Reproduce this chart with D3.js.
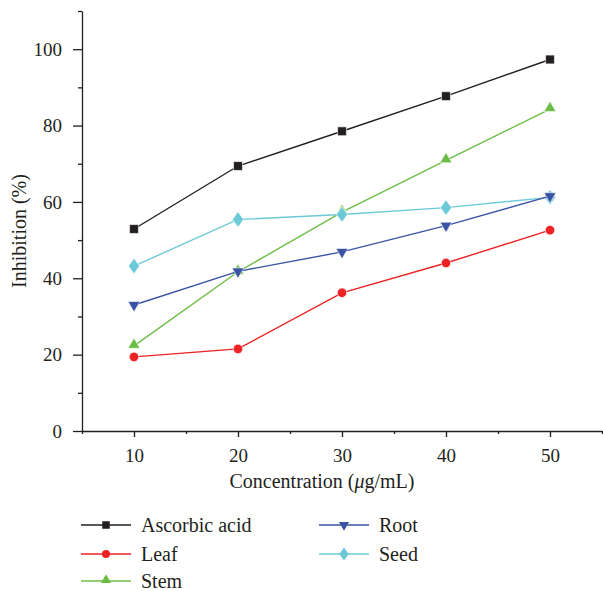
<!DOCTYPE html>
<html>
<head>
<meta charset="utf-8">
<script src="https://cdn.jsdelivr.net/npm/d3@7"></script>
<style>
  html, body { margin: 0; padding: 0; background: #fff; }
  svg { display: block; }
</style>
</head>
<body>
<div id="chart"></div>
<script>
(function () {
  "use strict";

  // --- Data ---
  const concentrations = [10, 20, 30, 40, 50];
  const ascorbicAcid = [52.9, 69.4, 78.5, 87.7, 97.3];
  const leaf = [19.4, 21.5, 36.2, 44.0, 52.6];
  const stem = [22.3, 41.7, 57.3, 70.9, 84.3];
  const root = [33.0, 41.8, 46.9, 53.8, 61.5];
  const seed = [43.2, 55.4, 56.7, 58.5, 61.2];
  const yTicks = [0, 20, 40, 60, 80, 100];
  const xTicks = [10, 20, 30, 40, 50];

  const series = [
    { name: "Ascorbic acid", values: ascorbicAcid, color: "#231f20", symbol: "square", col: 0, row: 0 },
    { name: "Leaf", values: leaf, color: "#ed2224", symbol: "circle", col: 0, row: 1 },
    { name: "Stem", values: stem, color: "#6cbd45", symbol: "triangle", col: 0, row: 2 },
    { name: "Root", values: root, color: "#3a53a4", symbol: "down", col: 1, row: 0 },
    { name: "Seed", values: seed, color: "#6ccad8", symbol: "diamond", col: 1, row: 1 },
  ];
  // draw order: later ones on top
  const drawOrder = ["Stem", "Seed", "Root", "Leaf", "Ascorbic acid"];

  const W = 603, H = 591;
  const font = "'Liberation Serif', 'DejaVu Serif', serif";
  const left = 82, right = 602, top = 11, bottom = 431;

  const svg = d3.select("#chart").append("svg")
    .attr("width", W).attr("height", H);

  const x = d3.scaleLinear().domain([5, 55]).range([left, right]);
  const y = d3.scaleLinear().domain([0, 110]).range([bottom, top]);

  // --- Axes ---
  const axisColor = "#231f20";
  const yMinor = d3.range(10, 111, 20);
  const xMinor = d3.range(5, 56, 10);

  const gy = svg.append("g").attr("transform", `translate(${left},0)`);
  gy.call(d3.axisLeft(y).tickValues(yMinor).tickSize(4).tickFormat(""));
  gy.call(g => g.select(".domain").remove());
  gy.append("g").call(d3.axisLeft(y).tickValues(yTicks).tickSize(9).tickPadding(11).tickSizeOuter(0));

  const gx = svg.append("g").attr("transform", `translate(0,${bottom})`);
  gx.call(d3.axisBottom(x).tickValues(xMinor).tickSize(3).tickFormat(""));
  gx.call(g => g.select(".domain").remove());
  gx.append("g").call(d3.axisBottom(x).tickValues(xTicks).tickSize(6).tickPadding(12).tickSizeOuter(0));

  svg.selectAll(".domain, .tick line").attr("stroke", axisColor).attr("stroke-width", 1.3);
  svg.selectAll(".tick text")
    .attr("font-family", font).attr("font-size", 19).attr("fill", axisColor);

  // Axis titles
  svg.append("text")
    .attr("transform", `translate(26,${231}) rotate(-90)`)
    .attr("text-anchor", "middle")
    .attr("font-family", font).attr("font-size", 20).attr("fill", axisColor)
    .text("Inhibition (%)");

  const xt = svg.append("text")
    .attr("x", 322).attr("y", 488)
    .attr("text-anchor", "middle")
    .attr("font-family", font).attr("font-size", 20).attr("fill", axisColor);
  xt.append("tspan").text("Concentration (");
  xt.append("tspan").attr("font-style", "italic").text("\u03bc");
  xt.append("tspan").text("g/mL)");

  // --- Symbols ---
  function symbolPath(kind) {
    switch (kind) {
      case "square": return d3.symbol(d3.symbolSquare, 78)();
      case "circle": return d3.symbol(d3.symbolCircle, 70)();
      case "triangle": return d3.symbol(d3.symbolTriangle, 62)();
      case "down": return d3.symbol(d3.symbolTriangle, 62)();
      case "diamond": return d3.symbol(d3.symbolDiamond, 70)();
    }
  }
  function symbolTransform(kind, px, py) {
    if (kind === "down") return `translate(${px},${py}) rotate(180)`;
    if (kind === "triangle") return `translate(${px},${py - 1})`;
    if (kind === "diamond") return `translate(${px},${py}) scale(1.25,1)`;
    return `translate(${px},${py})`;
  }

  const line = d3.line()
    .x((d, i) => x(concentrations[i]))
    .y(d => y(d));

  const plot = svg.append("g");
  for (const name of drawOrder) {
    const s = series.find(d => d.name === name);
    const g = plot.append("g");
    g.append("path")
      .attr("d", line(s.values))
      .attr("fill", "none")
      .attr("stroke", s.color)
      .attr("stroke-width", 1.4);
    g.selectAll("path.pt")
      .data(s.values)
      .join("path")
      .attr("class", "pt")
      .attr("d", symbolPath(s.symbol))
      .attr("transform", (d, i) => symbolTransform(s.symbol, x(concentrations[i]), y(d)))
      .attr("fill", s.color)
      .attr("stroke", "#fff")
      .attr("stroke-width", 0.6);
  }

  // --- Legend ---
  const legendX = [81, 319];
  const legendY = [525, 554, 581];
  const legend = svg.append("g");
  for (const s of series) {
    const lx = legendX[s.col], ly = legendY[s.row];
    const g = legend.append("g");
    g.append("line")
      .attr("x1", lx).attr("x2", lx + 50)
      .attr("y1", ly).attr("y2", ly)
      .attr("stroke", s.color).attr("stroke-width", 1.4);
    g.append("path")
      .attr("d", symbolPath(s.symbol))
      .attr("transform", symbolTransform(s.symbol, lx + 25, ly) + " scale(0.85)")
      .attr("fill", s.color);
    g.append("text")
      .attr("x", lx + 60).attr("y", ly + 7)
      .attr("font-family", font).attr("font-size", 20).attr("fill", axisColor)
      .text(s.name);
  }
})();
</script>
</body>
</html>
